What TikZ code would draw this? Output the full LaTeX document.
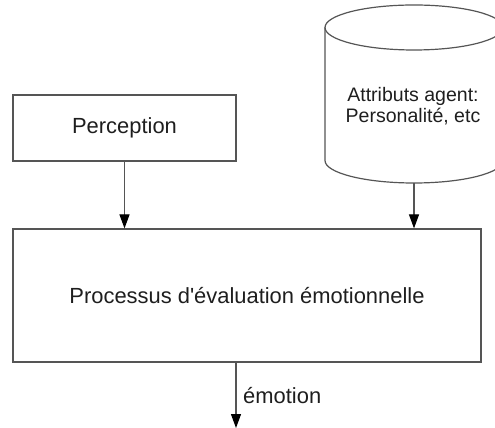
\documentclass[tikz,border=0pt]{standalone}
\usepackage{fontspec}
\setmainfont{Liberation Sans}
\usetikzlibrary{arrows.meta}
\usetikzlibrary{positioning}
\definecolor{mgray}{RGB}{85, 85, 85}
\definecolor{mtext}{RGB}{30, 30, 30}

\begin{document}
\begin{tikzpicture}[x=0.5bp, y=-0.5bp,
    box/.style={draw=mgray, line width=0.6bp, text=mtext, font=\fontsize{11}{11}\selectfont},
    label/.style={text=mtext, font=\fontsize{11}{11}\selectfont},
    flow/.style={draw=mgray, line width=0.6bp, -{Triangle[length=7bp, width=5bp, black]}}]
    \useasboundingbox (0, 0) rectangle (495, 428);

    \draw [mgray, line width=0.6bp] (325, 27.5) -- (325, 160.5) arc (180:0:89 and 22.5) -- (503, 27.5);
    \draw [mgray, line width=0.6bp] (414, 27.5) ellipse [x radius=89, y radius=22.5];

    \node [box, minimum width=111.5bp, minimum height=33bp] (perception) at (124.5, 128) {Perception};
    \node [box, minimum width=234bp, minimum height=66.5bp] (evaluation) at (247, 295.5) {Processus d\textquotesingle évaluation émotionnelle};
    \node [label, align=center, font=\fontsize{9.8}{10.5}\selectfont] (attributs) at (413, 106) {Attributs agent:\\ Personalité, etc};
    \coordinate (base) at (414, 183);
    \coordinate (sortie) at (236, 428);

    \draw [flow] (perception) -- (perception |- evaluation.north);
    \draw [flow] (base) -- (base |- evaluation.north);
    \draw [flow] (evaluation.south -| sortie) -- node [label, right] {émotion} (sortie);
\end{tikzpicture}
\end{document}
